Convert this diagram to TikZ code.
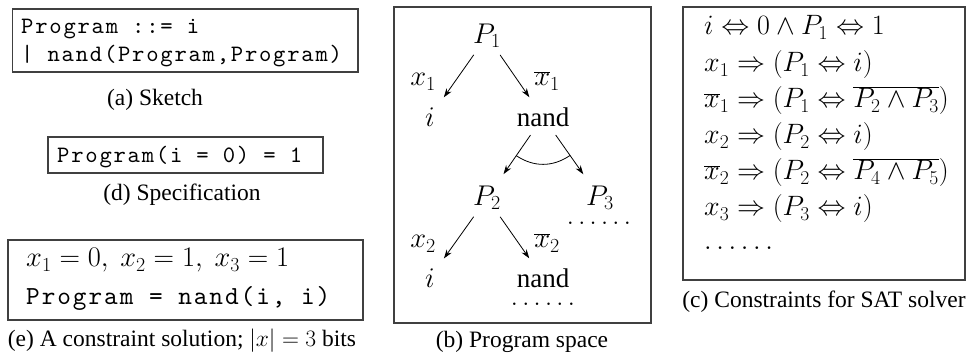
\RequirePackage{fix-cm}
\documentclass[tikz,border=0pt]{standalone}
\usepackage[no-math]{fontspec}
\setmainfont{Liberation Serif}
\setmonofont{lmmono10-regular.otf}[LetterSpace=7.5]
\usetikzlibrary{calc,arrows.meta}
\tikzset{
  boxframe/.style={draw=black!75, line width=1.1pt},
  txt/.style={inner sep=0pt, anchor=base west},
  captext/.style={inner sep=0pt, anchor=base, font=\fontsize{23.5}{28}\selectfont},
  tnode/.style={inner sep=0pt, font=\fontsize{27}{30}\selectfont},
  tmath/.style={inner sep=0pt, font=\fontsize{28.5}{32}\selectfont},
  dotsnode/.style={inner sep=0pt, anchor=base, font=\fontsize{26}{30}\selectfont},
  arr/.style={-{Stealth[length=9pt,width=6pt]}, line width=0.8pt},
}
\begin{document}
\begin{tikzpicture}[x=1pt,y=-1pt]
\useasboundingbox (0,0) rectangle (967,355);

% (a) Sketch
\draw[boxframe] (12.5,9) rectangle (358,72);
\node[txt, font=\fontsize{23.5}{28}\ttfamily] (a1) at (21,34) {Program ::= i};
\node[txt, font=\fontsize{23.5}{28}\ttfamily] (a2) at (21,62) {| nand(Program,Program)};
\node[captext] (capa) at (155,106) {(a) Sketch};

% (d) Specification
\draw[boxframe] (48,137) rectangle (323,173);
\node[txt, font=\fontsize{23.5}{28}\ttfamily] (d1) at (57,163) {Program(i = 0) = 1};
\node[captext] (capd) at (182,201) {(d) Specification};

% (e) A constraint solution
\draw[boxframe] (8,240) rectangle (363,320);
\node[txt, font=\fontsize{28.4}{34}\selectfont] (e1) at (26,267) {$x_1=0,\ x_2=1,\ x_3=1$};
\node[txt, font=\fontsize{26}{30}\ttfamily] (e2) at (26,305) {Program = nand(i, i)};
\node[captext] (cape) at (182,347) {(e) A constraint solution; $|x|=3$ bits};

% (b) Program space
\draw[boxframe] (394,7) rectangle (651,323);
\node[tmath] (P1) at (487,36) {$P_1$};
\node[tmath] (i1) at (430,117) {$i$};
\node[tnode] (n1) at (543,117) {nand};
\node[tmath] (l1) at (423,82) {$x_1$};
\node[tmath] (r1) at (547,81) {$\overline{x}_1$};
\draw[arr, shorten <=23pt, shorten >=24pt] (P1.center) -- (i1.center);
\draw[arr, shorten <=23pt, shorten >=24pt] (P1.center) -- (n1.center);
\node[tmath] (P2) at (487,198) {$P_2$};
\node[tmath] (P3) at (600,198) {$P_3$};
\draw[arr, shorten <=22pt, shorten >=29pt] (n1.center) -- (P2.center);
\draw[arr, shorten <=22pt, shorten >=29pt] (n1.center) -- (P3.center);
\coordinate (c1) at ($(n1.center)!47pt!(P2.center)$);
\coordinate (c2) at ($(n1.center)!47pt!(P3.center)$);
\draw[line width=0.8pt] (c1) to[bend right=34] (c2);
\node[dotsnode] (d3) at (599,225) {$\ldots\ldots$};
\node[tmath] (l2) at (423,244) {$x_2$};
\node[tmath] (r2) at (547,243) {$\overline{x}_2$};
\node[tmath] (i2) at (430,278) {$i$};
\node[tnode] (n2) at (543,278) {nand};
\draw[arr, shorten <=23pt, shorten >=24pt] (P2.center) -- (i2.center);
\draw[arr, shorten <=23pt, shorten >=24pt] (P2.center) -- (n2.center);
\node[dotsnode] (d2) at (543,306) {$\ldots\ldots$};
\node[captext] (capb) at (522,348) {(b) Program space};

% (c) Constraints for SAT solver
\draw[boxframe] (683,7) rectangle (965,280);
\begin{scope}[every node/.style={txt, font=\fontsize{28}{34}\selectfont}]
\node (c1l) at (704,35)  {$i \Leftrightarrow 0 \wedge P_1 \Leftrightarrow 1$};
\node (c2l) at (704,72)  {$x_1 \Rightarrow (P_1 \Leftrightarrow i)$};
\node (c3l) at (704,108) {$\overline{x}_1 \Rightarrow (P_1 \Leftrightarrow \overline{P_2 \wedge P_3})$};
\node (c4l) at (704,144) {$x_2 \Rightarrow (P_2 \Leftrightarrow i)$};
\node (c5l) at (704,180) {$\overline{x}_2 \Rightarrow (P_2 \Leftrightarrow \overline{P_4 \wedge P_5})$};
\node (c6l) at (704,216) {$x_3 \Rightarrow (P_3 \Leftrightarrow i)$};
\node (c7l) at (704,250) {$\ldots\ldots$};
\end{scope}
\node[captext] (capc) at (824,308) {(c) Constraints for SAT solver};
\end{tikzpicture}
\end{document}
